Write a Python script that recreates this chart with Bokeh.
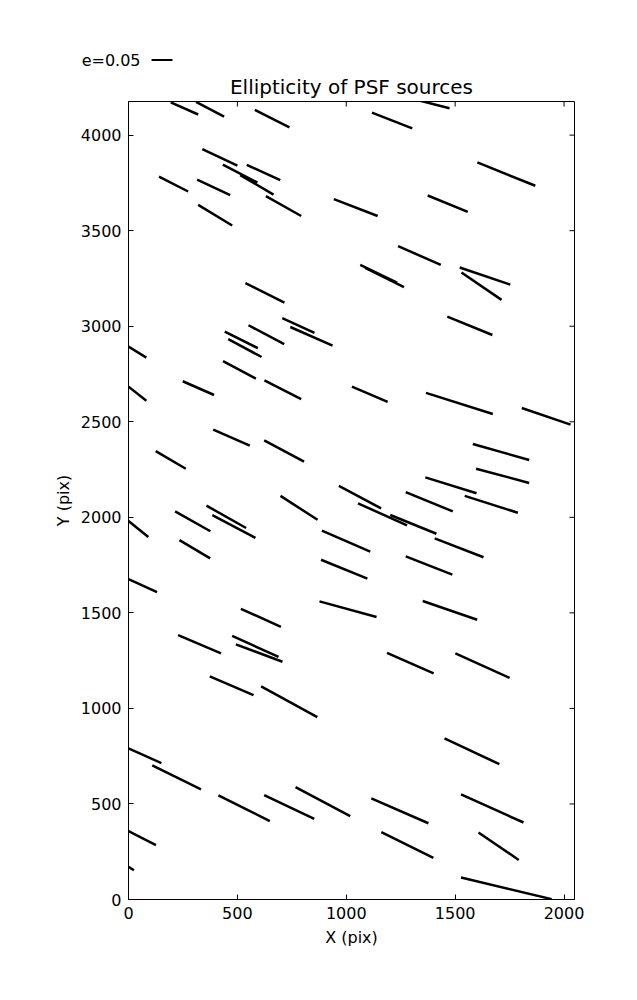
import math
from bokeh.plotting import figure
from bokeh.layouts import column
from bokeh.models import ColumnDataSource, Range1d, FixedTicker, LinearAxis
from bokeh.embed import file_html
from bokeh.resources import INLINE

# ---- data: whisker end points (pixel coordinates of the detector) ----
x0 = [194, 310, 580, 339, 433, 513, 543, 140, 315, 320,
      631, 943, 537, 1331, 1118, 1602, 1374, 1238, 1064, 1087,
      1521, 1529, 706, 743, 551, 442, 458, 0, 434, 249,
      624, 0, 389, 623, 125, 966, 1464, 1026, 1366, 1806,
      1581, 1596, 1363, 1273, 1544, 698, 214, 358, 385, 0,
      234, 0, 888, 884, 877, 516, 228, 476, 493, 373,
      609, 1054, 1202, 1406, 1273, 1351, 1187, 1501, 0, 109,
      413, 623, 767, 0, 0, 1451, 1115, 1527, 1161, 1607, 1527]
y0 = [4171, 4174, 4132, 3927, 3846, 3791, 3844, 3783, 3767, 3635,
      3681, 3665, 3225, 4182, 4118, 3857, 3684, 3419, 3321, 3305,
      3307, 3281, 3042, 2996, 3005, 2972, 2932, 2893, 2817, 2712,
      2717, 2684, 2459, 2403, 2346, 2164, 3050, 2684, 2651, 2572,
      2384, 2254, 2209, 2132, 2112, 2112, 2031, 2061, 2012, 1981,
      1881, 1677, 1930, 1778, 1560, 1521, 1384, 1379, 1335, 1168,
      1115, 2073, 2012, 1890, 1796, 1562, 1291, 1288, 791, 702,
      545, 546, 588, 358, 171, 843, 529, 550, 352, 351, 115]
x1 = [320, 439, 739, 500, 592, 666, 697, 274, 467, 476,
      793, 1144, 716, 1474, 1303, 1868, 1558, 1434, 1233, 1265,
      1753, 1713, 854, 937, 715, 594, 611, 82, 585, 393,
      793, 82, 557, 806, 263, 1160, 1671, 1190, 1673, 2030,
      1840, 1840, 1598, 1489, 1788, 868, 376, 540, 583, 91,
      375, 131, 1110, 1097, 1139, 700, 425, 689, 707, 574,
      867, 1279, 1414, 1630, 1487, 1601, 1401, 1750, 151, 333,
      649, 853, 1018, 126, 25, 1703, 1377, 1814, 1400, 1792, 1943]
y1 = [4108, 4097, 4040, 3841, 3752, 3689, 3764, 3705, 3686, 3527,
      3577, 3577, 3124, 4141, 4035, 3735, 3598, 3321, 3228, 3204,
      3218, 3138, 2965, 2898, 2906, 2885, 2839, 2836, 2726, 2640,
      2619, 2610, 2375, 2291, 2254, 2047, 2954, 2604, 2541, 2485,
      2300, 2180, 2126, 2031, 2024, 1987, 1927, 1944, 1892, 1897,
      1785, 1609, 1820, 1679, 1478, 1427, 1288, 1270, 1244, 1070,
      954, 1958, 1914, 1791, 1700, 1464, 1183, 1160, 714, 576,
      410, 422, 436, 284, 153, 708, 399, 403, 218, 207, 2]

x_ticks = [0, 500, 1000, 1500, 2000]
y_ticks = [0, 500, 1000, 1500, 2000, 2500, 3000, 3500, 4000]
key_label = "e=0.05"
key_length = 96          # whisker length (x pixels) that stands for e=0.05

X_MAX, Y_MAX = 2048, 4176
FONT = "DejaVu Sans"
W = 629
KEY_H = 70

# ---------------- key strip above the plot ----------------
key = figure(width=W, height=KEY_H, output_backend="svg", toolbar_location=None,
             x_range=Range1d(0, X_MAX), y_range=Range1d(0, KEY_H),
             min_border_left=128, min_border_right=55,
             min_border_top=0, min_border_bottom=0,
             x_axis_type=None, y_axis_type=None)
key.outline_line_color = None
key.background_fill_color = "white"
key.border_fill_color = "white"
key_axis = LinearAxis(ticker=FixedTicker(ticks=[10]),
                      major_label_overrides={10: key_label})
key_axis.axis_line_color = None
key_axis.major_tick_line_color = None
key_axis.minor_tick_line_color = None
key_axis.major_tick_in = 0
key_axis.major_tick_out = 0
key_axis.major_label_standoff = -12
key_axis.major_label_text_font = FONT
key_axis.major_label_text_font_size = "16px"
key_axis.major_label_text_color = "black"
key.add_layout(key_axis, "left")
key.segment(x0=[106], y0=[10.5], x1=[106 + key_length], y1=[10.5],
            line_color="black", line_width=1.8, line_cap="butt")

# ---------------- main plot ----------------
src = ColumnDataSource(data=dict(x0=x0, y0=y0, x1=x1, y1=y1))

p = figure(width=W, height=922, output_backend="svg", toolbar_location=None,
           x_range=Range1d(0, X_MAX), y_range=Range1d(0, Y_MAX),
           title="Ellipticity of PSF sources",
           min_border_left=128, min_border_right=55,
           min_border_top=30, min_border_bottom=93)

p.background_fill_color = "white"
p.border_fill_color = "white"
p.outline_line_color = "black"
p.outline_line_width = 1
p.grid.visible = False

p.title.text_font = FONT
p.title.text_font_size = "20px"
p.title.text_font_style = "normal"
p.title.align = "center"
p.title.text_color = "black"
p.title.standoff = 5

p.segment(x0="x0", y0="y0", x1="x1", y1="y1", source=src,
          line_color="black", line_width=2.5, line_cap="butt")


def style_axis(ax, ticks):
    ax.ticker = FixedTicker(ticks=ticks)
    ax.major_tick_in = 5
    ax.major_tick_out = 0
    ax.minor_tick_line_color = None
    ax.axis_line_color = "black"
    ax.major_tick_line_color = "black"
    ax.major_label_text_font = FONT
    ax.major_label_text_font_size = "16px"
    ax.major_label_text_color = "black"
    ax.axis_label_text_font = FONT
    ax.axis_label_text_font_size = "16px"
    ax.axis_label_text_font_style = "normal"
    ax.axis_label_text_color = "black"


style_axis(p.xaxis[0], x_ticks)
style_axis(p.yaxis[0], y_ticks)
p.xaxis[0].axis_label = "X (pix)"
p.yaxis[0].axis_label = "Y (pix)"
p.xaxis[0].major_label_standoff = 7
p.yaxis[0].major_label_standoff = 7
p.xaxis[0].axis_label_standoff = 6
p.yaxis[0].axis_label_standoff = 5
p.yaxis[0].major_label_orientation = "horizontal"

# mirrored inward ticks on the right and top edges (half of each dash is clipped)
p.scatter(x=[X_MAX] * len(y_ticks), y=y_ticks, marker="dash", size=10,
          line_color="black", line_width=1)
p.scatter(x=x_ticks, y=[Y_MAX] * len(x_ticks), marker="dash", size=10,
          angle=math.pi / 2, line_color="black", line_width=1)

layout = column(key, p, spacing=0)
open("out.html", "w").write(file_html(layout, INLINE))
